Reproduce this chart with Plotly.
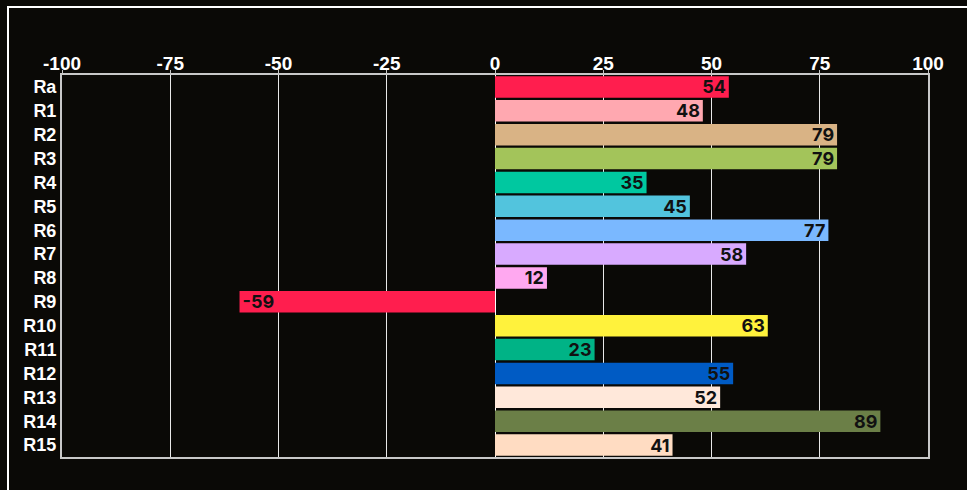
import plotly.graph_objects as go

categories = ["Ra", "R1", "R2", "R3", "R4", "R5", "R6", "R7", "R8", "R9",
              "R10", "R11", "R12", "R13", "R14", "R15"]
values = [54, 48, 79, 79, 35, 45, 77, 58, 12, -59, 63, 23, 55, 52, 89, 41]
colors = ["#FF1E4E", "#FFA8B0", "#D9B385", "#A3C45A", "#00C8A0", "#52C4DD",
          "#7AB8FF", "#D8AAFF", "#FFA8F0", "#FF1E4E", "#FFF23C", "#00B386",
          "#005BC4", "#FFE8DA", "#6B7F47", "#FFDCC2"]
tick_vals = [-100, -75, -50, -25, 0, 25, 50, 75, 100]

BG = "#0A0906"

fig = go.Figure(go.Bar(
    y=categories, x=values, orientation="h",
    marker=dict(color=colors, line=dict(width=0)),
    text=[str(v) for v in values], textposition="inside",
    insidetextanchor="end", textangle=0, constraintext="none",
    textfont=dict(color="#111111", size=18, family="Inter", weight="bold"),
    cliponaxis=False,
))

W, H = 967, 490
ml, mr, mt, mb = 62, 39, 75, 33
pw, ph = W - ml - mr, H - mt - mb

def px_to_paper_x(px):
    return (px - ml) / pw

def px_to_paper_y(py):
    return (H - mb - py) / ph

# outer container frame (left and top edges)
fig.add_shape(type="line", xref="paper", yref="paper",
              x0=px_to_paper_x(8), x1=px_to_paper_x(8),
              y0=px_to_paper_y(H + 20), y1=px_to_paper_y(7),
              line=dict(color="#FFFFFF", width=2), layer="above")
fig.add_shape(type="line", xref="paper", yref="paper",
              x0=px_to_paper_x(7), x1=px_to_paper_x(W + 20),
              y0=px_to_paper_y(7), y1=px_to_paper_y(7),
              line=dict(color="#FFFFFF", width=2), layer="above")

fig.update_layout(
    width=W, height=H,
    margin=dict(l=ml, r=mr, t=mt, b=mb, autoexpand=False),
    paper_bgcolor=BG, plot_bgcolor=BG,
    bargap=0.1, showlegend=False,
    font=dict(family="Liberation Sans", color="#FFFFFF"),
    xaxis=dict(range=[-100, 100], side="top", tickvals=tick_vals,
               ticktext=[str(t) for t in tick_vals], automargin=False,
               tickfont=dict(size=19, color="#FFFFFF", family="Liberation Sans", weight="bold"),
               showgrid=True, gridcolor="#E8E8E8", gridwidth=1,
               zeroline=True, zerolinecolor="#FFFFFF", zerolinewidth=1,
               showline=True, linecolor="#C8C8C8", linewidth=2, mirror=True,
               ticks="outside", ticklen=3, tickcolor="#C8C8C8", tickwidth=1,
               ticklabelstandoff=-8, fixedrange=True),
    yaxis=dict(autorange="reversed", categoryorder="array", categoryarray=categories,
               automargin=False,
               tickfont=dict(size=18, color="#FFFFFF", family="Liberation Sans", weight="bold"),
               showgrid=False, showline=True, linecolor="#C8C8C8", linewidth=2,
               mirror=True, ticks="", ticklen=0),
)

fig.write_html(
    "out.html",
    config={"displayModeBar": False},
    post_script=("document.body.style.margin='0';"
                 "document.body.style.background='" + BG + "';"
                 "document.body.style.overflow='hidden';"),
)
